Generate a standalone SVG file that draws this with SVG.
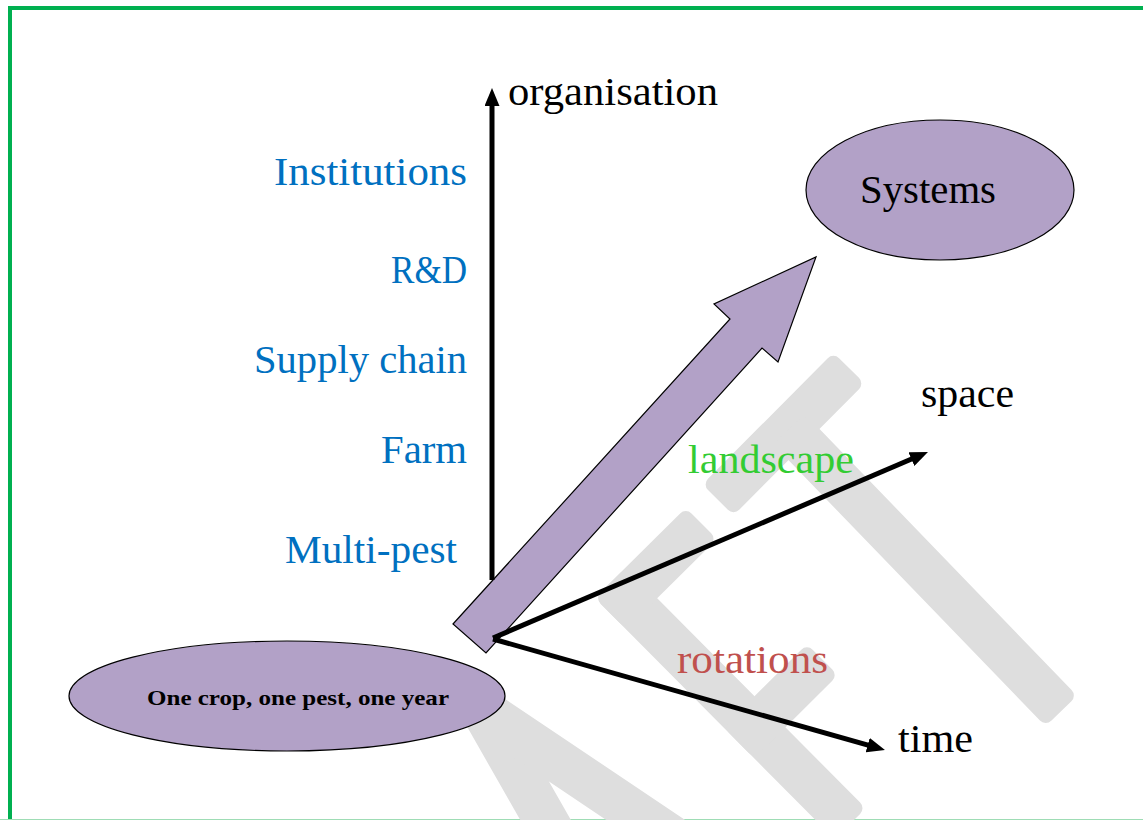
<svg xmlns="http://www.w3.org/2000/svg" width="1143" height="820" viewBox="0 0 1143 820">
<defs>
<style>
.lbl{font-family:"Liberation Serif","Times New Roman",serif;font-size:39px;}
.blue{fill:#0070C0;}
.blk{fill:#000;}
.wm rect{fill:#DEDEDE;}
.ax{stroke:#000;stroke-width:5;fill:none;marker-end:url(#ah);}
.node{fill:#B2A1C7;stroke:#000;stroke-width:1.2;}
</style>
<marker id="ah" viewBox="0 0 12 10" markerWidth="3.6" markerHeight="3" refX="2.67" refY="5" orient="auto" markerUnits="strokeWidth">
<path d="M0,0 L12,5 L0,10 z" fill="#000"/>
</marker>
</defs>
<rect width="1143" height="820" fill="#fff"/>
<path d="M10,821 V8 H1150" fill="none" stroke="#00B050" stroke-width="4"/>
<line x1="0" y1="819.5" x2="1143" y2="819.5" stroke="#9FDDB5" stroke-width="1"/>

<g id="watermark" class="wm">
<rect x="0" y="-22" width="186" height="44" rx="8" transform="translate(849,368) rotate(134.8)"/>
<rect x="0" y="-22" width="392" height="44" rx="8" transform="translate(789,429) rotate(46)"/>
<g transform="translate(595,598) rotate(45.2)">
<rect x="0" y="-44" width="340" height="44" rx="8"/>
<rect x="0" y="-128" width="44" height="128" rx="8"/>
<rect x="182" y="-118" width="44" height="118" rx="8"/>
</g>
<rect x="0" y="-22" width="160" height="44" rx="8" transform="translate(480,705) rotate(60.3)"/>
<rect x="0" y="-22" width="250" height="44" rx="8" transform="translate(485,712) rotate(33.9)"/>
</g>

<g id="node-one-crop">
<ellipse class="node" cx="287" cy="696" rx="218" ry="55"/>
<text x="298" y="705" text-anchor="middle" font-family="Liberation Serif, Times New Roman, serif" font-weight="bold" font-size="22" textLength="302" lengthAdjust="spacingAndGlyphs">One crop, one pest, one year</text>
</g>

<g id="node-systems">
<ellipse class="node" cx="940" cy="190" rx="134" ry="70"/>
<text class="lbl blk" x="928" y="203" text-anchor="middle" textLength="136" lengthAdjust="spacingAndGlyphs">Systems</text>
</g>

<g id="node-big-arrow">
<polygon class="node" points="453,624 730,319 714,304 816,257 778,362 762,348 486,653"/>
</g>

<g id="connectors">
<line class="ax" x1="492" y1="580" x2="492" y2="102"/>
<line class="ax" x1="493" y1="638" x2="915.1" y2="457.5"/>
<line class="ax" x1="493" y1="639" x2="871.5" y2="746.2"/>
</g>

<g id="axis-labels">
<text class="lbl blk" x="508" y="105" textLength="210" lengthAdjust="spacingAndGlyphs">organisation</text>
<text class="lbl blk" x="921" y="407" textLength="93" lengthAdjust="spacingAndGlyphs">space</text>
<text class="lbl blk" x="898" y="752" textLength="75" lengthAdjust="spacingAndGlyphs">time</text>
<text class="lbl" x="688" y="473" fill="#33CC33" textLength="166" lengthAdjust="spacingAndGlyphs">landscape</text>
<text class="lbl" x="677" y="673" fill="#C0504D" textLength="151" lengthAdjust="spacingAndGlyphs">rotations</text>
</g>

<g id="levels">
<text class="lbl blue" x="467" y="185" text-anchor="end" textLength="193" lengthAdjust="spacingAndGlyphs">Institutions</text>
<text class="lbl blue" x="467" y="283" text-anchor="end" textLength="76" lengthAdjust="spacingAndGlyphs">R&amp;D</text>
<text class="lbl blue" x="467" y="373" text-anchor="end" textLength="213" lengthAdjust="spacingAndGlyphs">Supply chain</text>
<text class="lbl blue" x="467" y="463" text-anchor="end" textLength="86" lengthAdjust="spacingAndGlyphs">Farm</text>
<text class="lbl blue" x="457" y="563" text-anchor="end" textLength="172" lengthAdjust="spacingAndGlyphs">Multi-pest</text>
</g>
</svg>
